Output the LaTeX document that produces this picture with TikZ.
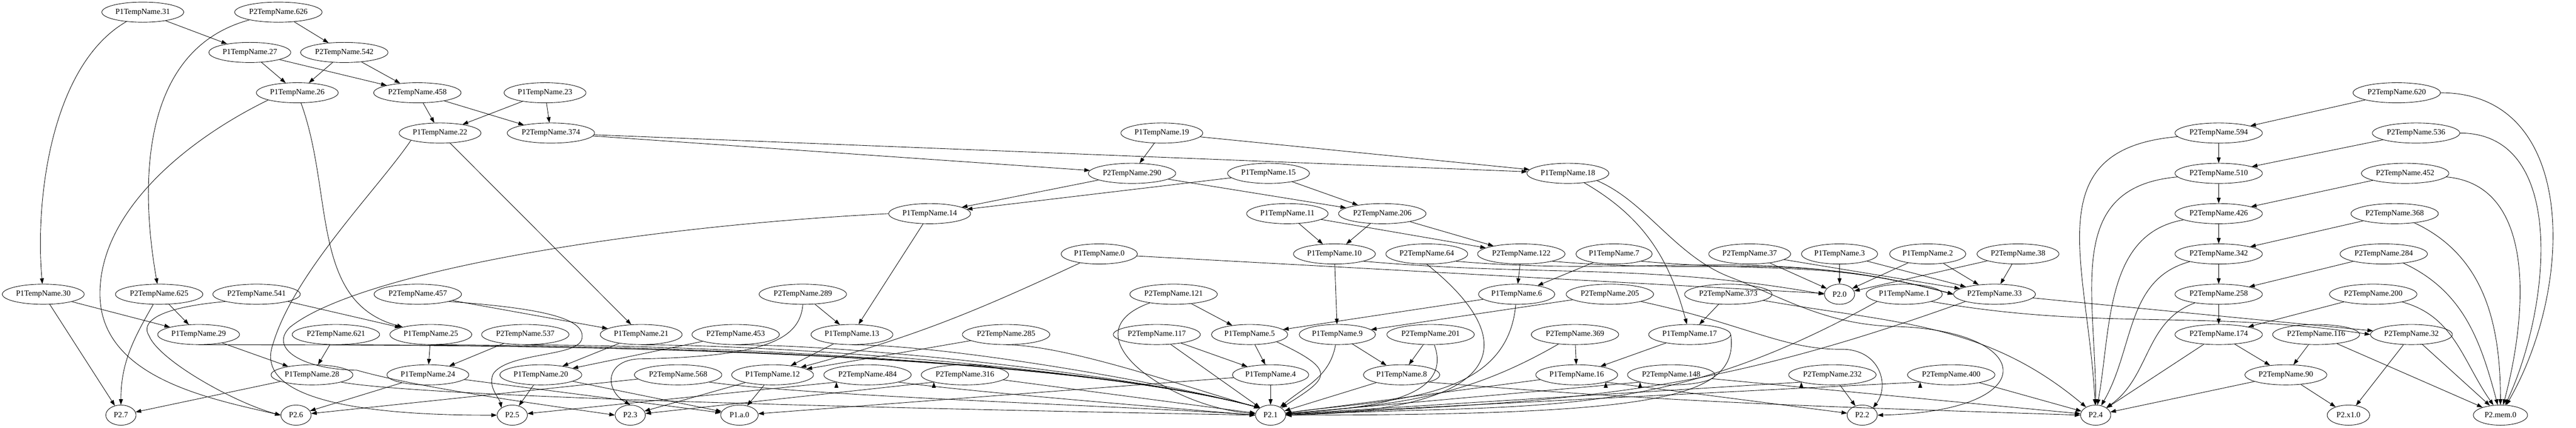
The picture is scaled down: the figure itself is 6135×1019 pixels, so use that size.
\documentclass[tikz,border=0pt]{standalone}
\usepackage{fontspec}
\setmainfont{Liberation Serif}
\usetikzlibrary{shapes.geometric,arrows.meta}
\tikzset{
	tn/.style={draw,ellipse,minimum height=36pt,minimum width=54pt,inner xsep=3pt,inner ysep=2pt,font=\fontsize{14}{16}\selectfont},
}
\begin{document}
\begin{tikzpicture}[x=.75pt,y=-.75pt,>={Triangle[length=10pt,width=7pt]},line width=.8pt,line join=round]
	\useasboundingbox (0,0) rectangle (6135,1019);
	\path (340,29) node[tn] (a31) {P1TempName.31} (663,29) node[tn] (b626) {P2TempName.626};
	\path (595,125) node[tn] (a27) {P1TempName.27} (820,125) node[tn] (b542) {P2TempName.542};
	\path (708,221) node[tn] (a26) {P1TempName.26} (994,221) node[tn] (b458) {P2TempName.458}
		(1298,221) node[tn] (a23) {P1TempName.23} (5708,221) node[tn] (b620) {P2TempName.620};
	\path (1048,317) node[tn] (a22) {P1TempName.22} (1312,317) node[tn] (b374) {P2TempName.374}
		(2767,317) node[tn] (a19) {P1TempName.19} (5284,317) node[tn] (b594) {P2TempName.594}
		(5754,317) node[tn] (b536) {P2TempName.536};
	\path (2696,413) node[tn] (b290) {P2TempName.290} (3021,413) node[tn] (a15) {P1TempName.15}
		(3734,413) node[tn] (a18) {P1TempName.18} (5284,413) node[tn] (b510) {P2TempName.510}
		(5728,413) node[tn] (b452) {P2TempName.452};
	\path (2214,509) node[tn] (a14) {P1TempName.14} (3066,509) node[tn] (a11) {P1TempName.11}
		(3292,509) node[tn] (b206) {P2TempName.206} (5284,509) node[tn] (b426) {P2TempName.426}
		(5703,509) node[tn] (b368) {P2TempName.368};
	\path (2618,605) node[tn] (a0) {P1TempName.0} (3178,605) node[tn] (a10) {P1TempName.10}
		(3398,605) node[tn] (b64) {P2TempName.64} (3623,605) node[tn] (b122) {P2TempName.122}
		(3844,605) node[tn] (a7) {P1TempName.7} (4167,605) node[tn] (b37) {P2TempName.37}
		(4381,605) node[tn] (a3) {P1TempName.3} (4591,605) node[tn] (a2) {P1TempName.2}
		(4806,605) node[tn] (b38) {P2TempName.38} (5284,605) node[tn] (b342) {P2TempName.342}
		(5677,605) node[tn] (b284) {P2TempName.284};
	\path (103,701) node[tn] (a30) {P1TempName.30} (379,701) node[tn] (b625) {P2TempName.625}
		(611,701) node[tn] (b541) {P2TempName.541} (995,701) node[tn] (b457) {P2TempName.457}
		(1912,701) node[tn] (b289) {P2TempName.289} (2795,701) node[tn] (b121) {P2TempName.121}
		(3612,701) node[tn] (a6) {P1TempName.6} (3834,701) node[tn] (b205) {P2TempName.205}
		(4116,701) node[tn] (b373) {P2TempName.373} (4381,701) node[tn] (o0) {P2.0}
		(4535,701) node[tn] (a1) {P1TempName.1} (4750,701) node[tn] (b33) {P2TempName.33}
		(5284,701) node[tn] (b258) {P2TempName.258} (5652,701) node[tn] (b200) {P2TempName.200};
	\path (473,797) node[tn] (a29) {P1TempName.29} (800,797) node[tn] (b621) {P2TempName.621}
		(1026,797) node[tn] (a25) {P1TempName.25} (1251,797) node[tn] (b537) {P2TempName.537}
		(1527,797) node[tn] (a21) {P1TempName.21} (1752,797) node[tn] (b453) {P2TempName.453}
		(2029,797) node[tn] (a13) {P1TempName.13} (2396,797) node[tn] (b285) {P2TempName.285}
		(2755,797) node[tn] (b117) {P2TempName.117} (2976,797) node[tn] (a5) {P1TempName.5}
		(3185,797) node[tn] (a9) {P1TempName.9} (3407,797) node[tn] (b201) {P2TempName.201}
		(3751,797) node[tn] (b369) {P2TempName.369} (4024,797) node[tn] (a17) {P1TempName.17}
		(5284,797) node[tn] (b174) {P2TempName.174} (5516,797) node[tn] (b116) {P2TempName.116}
		(5743,797) node[tn] (b32) {P2TempName.32};
	\path (743,893) node[tn] (a28) {P1TempName.28} (1019,893) node[tn] (a24) {P1TempName.24}
		(1288,893) node[tn] (a20) {P1TempName.20} (1615,893) node[tn] (b568) {P2TempName.568}
		(1840,893) node[tn] (a12) {P1TempName.12} (2066,893) node[tn] (b484) {P2TempName.484}
		(2298,893) node[tn] (b316) {P2TempName.316} (3026,893) node[tn] (a4) {P1TempName.4}
		(3338,893) node[tn] (a8) {P1TempName.8} (3755,893) node[tn] (a16) {P1TempName.16}
		(3980,893) node[tn] (b148) {P2TempName.148} (4364,893) node[tn] (b232) {P2TempName.232}
		(4647,893) node[tn] (b400) {P2TempName.400} (5444,893) node[tn] (b90) {P2TempName.90};
	\path (288,989) node[tn] (o7) {P2.7} (705,989) node[tn] (o6) {P2.6} (1220,989) node[tn] (o5) {P2.5}
		(1501,989) node[tn] (o3) {P2.3} (1761,989) node[tn,minimum width=67pt] (oa) {P1.a.0}
		(3026,989) node[tn] (o1) {P2.1} (4435,989) node[tn] (o2) {P2.2} (4991,989) node[tn] (o4) {P2.4}
		(5593,989) node[tn,minimum width=76pt] (ox1) {P2.x1.0} (5955,989) node[tn,minimum width=97pt] (omem) {P2.mem.0};
	\draw[->] (a31) edge[out=-150,in=95,looseness=.8] (a30) edge (a27);
	\draw[->] (b626) edge[out=195,in=100] (b625) edge (b542);
	\draw[->] (a27) edge (a26) edge (b458);
	\draw[->] (b542) edge (a26) edge (b458);
	\draw[->] (a26) edge[out=-70,in=165] (a25);
	\draw[->] (a26.south west) .. controls (450,330) and (238,500) .. (238,700) .. controls (238,900) and (500,950) .. (o6.west);
	\draw[->] (b458) edge (a22) edge (b374);
	\draw[->] (a23) edge (a22) edge (b374);
	\draw[->] (a22) edge (a21);
	\draw[->] (a22.south west) .. controls (900,450) and (700,650) .. (650,820) .. controls (600,960) and (900,990) .. (o5.west);
	\draw[->] (b374) edge (b290) edge (a18);
	\draw[->] (a19) edge (b290) edge (a18);
	\draw[->] (b290) edge (a14) edge (b206);
	\draw[->] (a15) edge (a14) edge (b206);
	\draw[->] (a14) edge (a13);
	\draw[->] (a14.west) .. controls (1500,540) and (850,650) .. (690,780) .. controls (640,830) and (720,880) .. (850,882) .. controls (1000,925) and (1300,965) .. (o3.west);
	\draw[->] (a11) edge (a10) edge (b122);
	\draw[->] (b206) edge (a10) edge (b122);
	\draw[->] (a18) edge[out=-30,in=105] (a17);
	\draw[->] (a18.south east) .. controls (3920,480) and (3990,610) .. (4120,660) .. controls (4250,710) and (4350,775) .. (4520,778) .. controls (4850,790) and (4870,980) .. (o2.east);
	\draw[->] (a0) edge[out=-155,in=15] (a12) edge (o0);
	\draw[->] (a10) edge (a9);
	\draw[->] (a10.south east) .. controls +(430,38) and +(-426,-75) .. (o0.west);
	\draw[->] (b64.south) .. controls +(250,200) and +(500,-10) .. (o1.east);
	\draw[->] (b64.south east) .. controls +(462,40) and +(-448,-120) .. (b33.west);
	\draw[->] (b122) edge (a6);
	\draw[->] (b122.south east) .. controls +(400,35) and +(-390,-105) .. (b33.west);
	\draw[->] (a7) edge (a6);
	\draw[->] (a7.south east) .. controls +(315,28) and +(-305,-82) .. (b33.west);
	\draw[->] (b37) edge (o0) edge (b33);
	\draw[->] (a3) edge (o0) edge (b33);
	\draw[->] (a2) edge (o0) edge (b33);
	\draw[->] (b38) edge (b33) edge (o0);
	\draw[->] (a30) edge (a29) edge (o7);
	\draw[->] (b625) edge (a29) edge[out=-120,in=90] (o7);
	\draw[->] (b541) edge (a25);
	\draw[->] (b541.south west) .. controls (400,730) and (330,760) .. (355,800) .. controls (380,860) and (560,960) .. (o6.west);
	\draw[->] (b457) edge (a21);
	\draw[->] (b457.south east) .. controls (1300,735) and (1400,760) .. (1385,810) .. controls (1370,850) and (1210,840) .. (1175,890) .. controls (1160,920) and (1190,950) .. (o5.north west);
	\draw[->] (b289) edge (a13);
	\draw[->] (b289.south) .. controls (1905,810) and (1820,850) .. (1520,855) .. controls (1440,860) and (1440,930) .. (o3.north);
	\draw[->] (b121) edge (a5) edge[out=-160,in=175,looseness=1.5] (o1);
	\draw[->] (a6) edge (a5) edge[out=-95,in=8] (o1);
	\draw[->] (b205) edge (a9);
	\draw[->] (b205.south east) .. controls (4150,770) and (4250,835) .. (4390,832) .. controls (4480,835) and (4500,920) .. (o2.north east);
	\draw[->] (b373) edge (a17) edge[out=-10,in=140] (o4);
	\draw[->] (a1.south west) .. controls +(-520,290) and +(600,-30) .. (o1.east);
	\draw[->] (a1.south east) .. controls +(400,70) and +(-400,-60) .. (b32.west);
	\draw[->] (b33) edge (b32);
	\draw[->] (b33.south west) .. controls +(-640,230) and +(680,-35) .. (o1.east);
	\draw[->] (a29) edge (a28);
	\draw[->] (a29.south) .. controls +(590,0) and +(-570,-153) .. (o1.north west);
	\draw[->] (b621) edge (a28);
	\draw[->] (b621.south) .. controls +(515,0) and +(-497,-133) .. (o1.north west);
	\draw[->] (a25) edge (a24);
	\draw[->] (a25.south) .. controls +(462,0) and +(-446,-120) .. (o1.north west);
	\draw[->] (b537) edge (a24);
	\draw[->] (b537.south) .. controls +(410,0) and +(-396,-106) .. (o1.north west);
	\draw[->] (a21) edge (a20);
	\draw[->] (a21.south) .. controls +(345,0) and +(-333,-89) .. (o1.north west);
	\draw[->] (b453) edge (a20);
	\draw[->] (b453.south) .. controls +(292,0) and +(-282,-76) .. (o1.north west);
	\draw[->] (a13) edge (a12);
	\draw[->] (a13.south) .. controls +(227,0) and +(-219,-59) .. (o1.north west);
	\draw[->] (b285) edge (a12);
	\draw[->] (b285.south) .. controls +(150,0) and +(-145,-39) .. (o1.north west);
	\draw[->] (b117) edge (a4) edge (o1);
	\draw[->] (a5) edge (a4);
	\draw[->] (a5.south east) .. controls +(150,70) and +(110,-70) .. (o1.north east);
	\draw[->] (a9) edge (a8) edge[out=-100,in=40] (o1);
	\draw[->] (b201) edge (a8) edge[out=-70,in=5] (o1);
	\draw[->] (b369) edge (a16) edge[out=-150,in=5] (o1);
	\draw[->] (a17) edge (a16);
	\draw[->] (a17.east) .. controls +(20,150) and +(900,0) .. (o1.east);
	\draw[->] (a28) edge (o7);
	\draw[->] (a28.south east) .. controls +(250,45) and +(-255,-5) .. (o1.west);
	\draw[->] (a24) edge (o6) edge (oa);
	\draw[->] (a20) edge (o5) edge (oa);
	\draw[->] (b568) edge (o6);
	\draw[->] (b568.south east) .. controls +(250,35) and +(-250,-20) .. (o1.west);
	\draw[->] (a12) edge (oa) edge (o3);
	\draw[->] (b484.south west) edge (o5);
	\draw[->] (b484.south east) .. controls +(166,23) and +(-165,-14) .. (o1.west);
	\draw[->] (b316.south west) edge (o3) (b316) edge (o1);
	\draw[->] (a4) edge (o1) edge (oa);
	\draw[->] (a8) edge (o1);
	\draw[->] (a8.south east) .. controls +(600,50) and +(-600,-20) .. (o4.west);
	\draw[->] (a16) edge (o1) (a16.south east) edge (o2);
	\draw[->] (b148.south west) edge (o1) (b148) edge (o4);
	\draw[->] (b232) edge (o2) (b232.south west) edge (o1);
	\draw[->] (b400) edge (o4) (b400.south west) edge (o1);
	\draw[->] (b90) edge (o4) edge (ox1);
	\draw[->] (b620) edge (b594) edge[out=0,in=60,looseness=1.1] (omem);
	\draw[->] (b536) edge (b510) edge[out=0,in=65] (omem);
	\draw[->] (b452) edge (b426) edge[out=-5,in=75] (omem);
	\draw[->] (b368) edge (b342) edge[out=-25,in=90] (omem);
	\draw[->] (b284) edge (b258) edge[out=-25,in=105] (omem);
	\draw[->] (b200) edge (b174) edge[out=-15,in=125] (omem);
	\draw[->] (b594) edge (b510) edge[out=185,in=93,looseness=1.3] (o4);
	\draw[->] (b510) edge (b426) edge[out=185,in=90,looseness=1.2] (o4);
	\draw[->] (b426) edge (b342) edge[out=190,in=80] (o4);
	\draw[->] (b342) edge (b258) edge[out=195,in=60] (o4);
	\draw[->] (b258) edge (b174) edge[out=200,in=35] (o4);
	\draw[->] (b174) edge (b90) edge (o4);
	\draw[->] (b116) edge (b90) edge (omem);
	\draw[->] (b32) edge (ox1) edge (omem);
\end{tikzpicture}
\end{document}
